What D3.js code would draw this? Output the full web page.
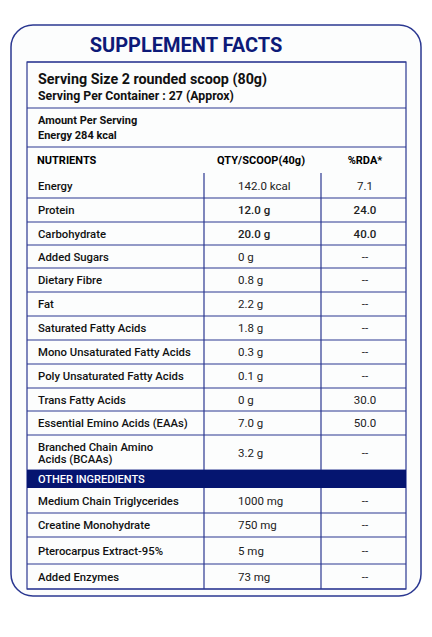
<!DOCTYPE html><html><head><meta charset="utf-8"><script src="https://cdn.jsdelivr.net/npm/d3@7"></script>
<style>body{margin:0;background:#fff}text{font-family:Roboto,sans-serif}</style></head><body><svg id="c" width="432" height="637"></svg>
<script>
const nutrients=["Energy","Protein","Carbohydrate","Added Sugars","Dietary Fibre","Fat","Saturated Fatty Acids","Mono Unsaturated Fatty Acids","Poly Unsaturated Fatty Acids","Trans Fatty Acids","Essential Emino Acids (EAAs)","Branched Chain Amino|Acids (BCAAs)"];
const qty=["142.0 kcal","12.0 g","20.0 g","0 g","0.8 g","2.2 g","1.8 g","0.3 g","0.1 g","0 g","7.0 g","3.2 g"];
const rda=["7.1","24.0","40.0","--","--","--","--","--","--","30.0","50.0","--"];
const others=["Medium Chain Triglycerides","Creatine Monohydrate","Pterocarpus Extract-95%","Added Enzymes"];
const otherQty=["1000 mg","750 mg","5 mg","73 mg"];
const otherRda=["--","--","--","--"];
const rowEdges=[173,198,222,245,268,292,316,340,364,388,411,435,470];
const otherEdges=[488,513,537,564,589];
const navy="#0d1a78",line="#2b3891";
const svg=d3.select("#c");
svg.append("rect").attr("x",11).attr("y",25).attr("width",410).attr("height",571).attr("rx",22).attr("fill","#fcfdfd").attr("stroke",line).attr("stroke-width",1.5);
svg.append("text").attr("x",186).attr("y",52).attr("text-anchor","middle").attr("font-size",20).attr("font-weight",700).attr("fill",navy).text("SUPPLEMENT FACTS");
const x0=27,x1=204,x2=321,x3=406;
const g=svg.append("g");
function hl(y){g.append("line").attr("x1",x0).attr("x2",x3).attr("y1",y).attr("y2",y).attr("stroke",line).attr("stroke-width",1.2);}
[62,108,147].forEach(hl);
svg.append("text").attr("x",38).attr("y",84).attr("font-size",14.3).attr("font-weight",700).attr("fill","#111").text("Serving Size 2 rounded scoop (80g)");
svg.append("text").attr("x",38).attr("y",100).attr("font-size",12.3).attr("font-weight",700).attr("fill","#111").text("Serving Per Container : 27 (Approx)");
svg.append("text").attr("x",38).attr("y",124).attr("font-size",11).attr("font-weight",700).attr("fill","#111").text("Amount Per Serving");
svg.append("text").attr("x",38).attr("y",139).attr("font-size",11).attr("font-weight",700).attr("fill","#111").text("Energy 284 kcal");
svg.append("text").attr("x",37).attr("y",164).attr("font-size",11).attr("font-weight",700).text("NUTRIENTS");
svg.append("text").attr("x",261).attr("y",164).attr("font-size",11).attr("font-weight",700).attr("text-anchor","middle").text("QTY/SCOOP(40g)");
svg.append("text").attr("x",365).attr("y",164).attr("font-size",11).attr("font-weight",700).attr("text-anchor","middle").text("%RDA*");
function rows(names,q,r,edges,startBold){
  names.forEach((n,i)=>{
    const y0=edges[i],y1=edges[i+1],ym=(y0+y1)/2;
    hl(y1);
    const parts=n.split("|");
    parts.forEach((p,k)=>svg.append("text").attr("x",38).attr("y",ym+4+(k-(parts.length-1)/2)*12).attr("font-size",11.3).attr("font-weight",500).attr("fill","#111").text(p));
    const bold=startBold&&(i===1||i===2);
    svg.append("text").attr("x",238).attr("y",ym+4).attr("font-size",11.5).attr("font-weight",bold?500:400).attr("fill","#222").text(q[i]);
    svg.append("text").attr("x",365).attr("y",ym+4).attr("font-size",11.5).attr("font-weight",bold?500:400).attr("text-anchor","middle").attr("fill","#222").text(r[i]);
  });
  [x1,x2].forEach(x=>g.append("line").attr("x1",x).attr("x2",x).attr("y1",edges[0]).attr("y2",edges[edges.length-1]).attr("stroke",line).attr("stroke-width",1.2));
}
rows(nutrients,qty,rda,rowEdges,true);
svg.append("rect").attr("x",x0).attr("y",470).attr("width",x3-x0).attr("height",18).attr("fill","#051570");
svg.append("text").attr("x",38).attr("y",483).attr("font-size",11).attr("font-weight",500).attr("fill","#fff").text("OTHER INGREDIENTS");
rows(others,otherQty,otherRda,otherEdges,false);
g.append("rect").attr("x",x0).attr("y",62).attr("width",x3-x0).attr("height",589-62).attr("fill","none").attr("stroke",line).attr("stroke-width",1.2);
</script></body></html>
